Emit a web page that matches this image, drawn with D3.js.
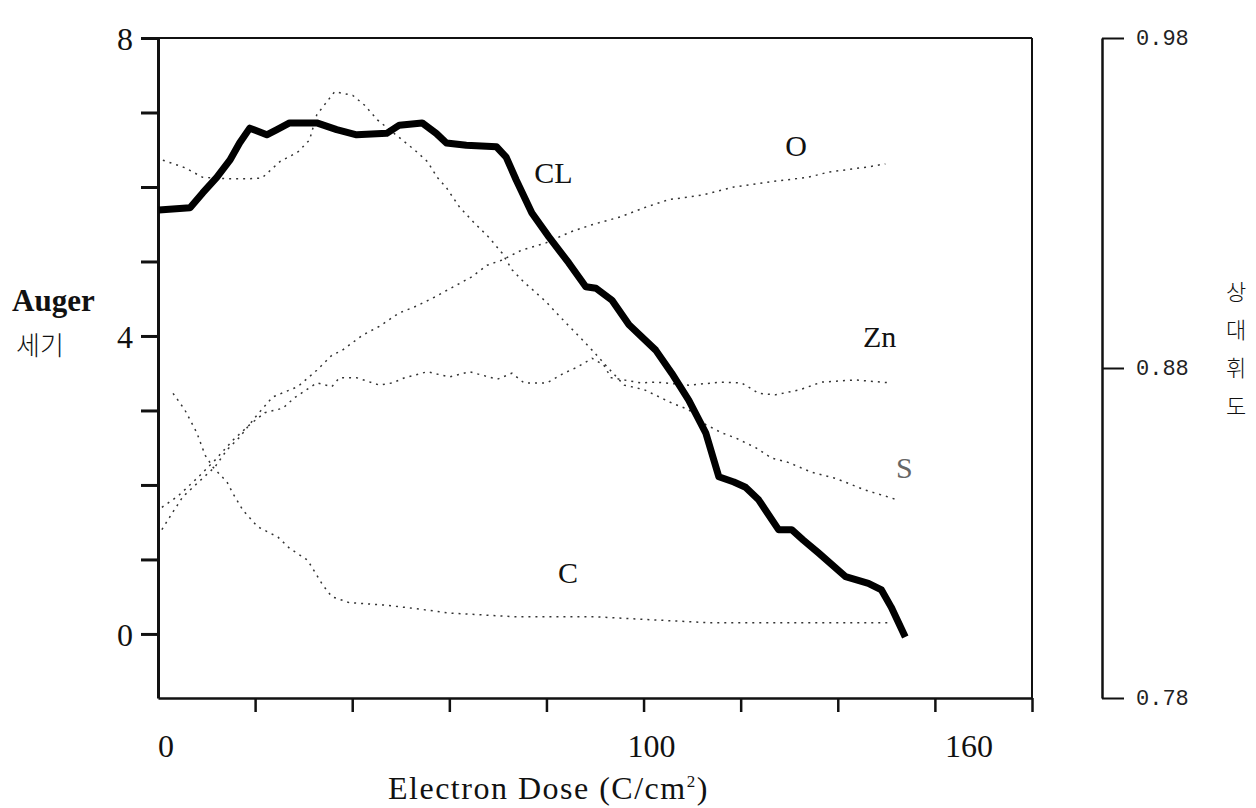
<!DOCTYPE html>
<html>
<head>
<meta charset="utf-8">
<script src="https://cdn.jsdelivr.net/npm/d3@7"></script>
<style>
  body { margin: 0; background: #fff; }
  svg { display: block; }
  .num { font-family: "Liberation Serif", "DejaVu Serif", serif; font-size: 32px; fill: #111; }
  .lbl { font-family: "Liberation Serif", "DejaVu Serif", serif; font-size: 30px; fill: #111; }
  .kr { font-family: "Noto Sans CJK KR", sans-serif; fill: #111; }
  .mono { font-family: "Liberation Mono", "DejaVu Sans Mono", monospace; font-size: 22px; fill: #222; }
</style>
</head>
<body>
<div id="chart"></div>
<script>
// values: [dose, auger intensity]
var clData = [[0.2,5.69],[6.6,5.72],[9.2,5.92],[12.1,6.13],[14.8,6.36],[16.8,6.59],[18.9,6.79],[22.4,6.70],[24.5,6.77],[27.1,6.86],[32.7,6.86],[36.8,6.77],[40.9,6.70],[47.1,6.72],[49.7,6.83],[54.4,6.86],[57.3,6.72],[59.4,6.59],[63.5,6.56],[69.7,6.54],[71.7,6.40],[73.8,6.09],[77.0,5.65],[80.5,5.33],[84.6,4.98],[88.1,4.66],[90.2,4.64],[93.5,4.48],[97.0,4.15],[102.5,3.81],[105.8,3.50],[109.3,3.14],[112.8,2.70],[115.5,2.11],[118.6,2.04],[121.0,1.97],[123.7,1.80],[127.8,1.40],[130.5,1.40],[132.9,1.26],[136.0,1.09],[141.6,0.77],[146.3,0.68],[149.0,0.59],[151.0,0.36],[153.9,-0.04]];
var sData = [[1.0,6.36],[5.5,6.26],[9.2,6.13],[14.4,6.11],[18.5,6.11],[21.4,6.12],[25.1,6.34],[28.8,6.47],[31.2,6.63],[32.7,6.97],[36.4,7.28],[40.1,7.23],[42.5,7.10],[45.2,6.90],[52.8,6.50],[55.5,6.34],[57.5,6.13],[59.4,5.99],[62.1,5.73],[65.1,5.52],[68.2,5.32],[70.9,5.11],[72.9,4.89],[75.4,4.72],[77.0,4.63],[79.9,4.46],[83.2,4.23],[87.1,3.97],[89.4,3.81],[92.3,3.60],[96.0,3.34],[100.1,3.28],[105.8,3.10],[109.3,3.01],[112.8,2.81],[116.1,2.70],[119.0,2.63],[123.1,2.50],[126.4,2.36],[129.9,2.30],[134.6,2.17],[139.5,2.09],[145.7,1.93],[151.8,1.81]];
var oData = [[0.8,1.40],[2.9,1.62],[5.1,1.84],[8.2,2.03],[11.7,2.24],[14.2,2.47],[16.8,2.64],[19.9,2.90],[23.6,3.18],[28.8,3.32],[32.7,3.54],[35.8,3.74],[38.0,3.81],[42.1,4.01],[45.6,4.13],[49.7,4.31],[53.2,4.40],[56.9,4.52],[61.4,4.68],[64.5,4.79],[67.8,4.95],[70.9,5.02],[74.8,5.15],[79.9,5.25],[85.1,5.40],[89.2,5.49],[95.3,5.60],[100.5,5.73],[105.2,5.83],[112.0,5.89],[118.6,6.00],[126.2,6.07],[133.9,6.13],[138.1,6.20],[146.3,6.27],[149.8,6.31]];
var znData = [[0.8,1.70],[4.1,1.85],[8.2,2.10],[11.7,2.33],[15.4,2.60],[18.9,2.81],[22.0,2.97],[25.7,3.03],[28.1,3.17],[32.7,3.37],[35.8,3.32],[37.4,3.44],[40.9,3.44],[45.6,3.34],[48.3,3.37],[50.8,3.44],[55.5,3.52],[60.0,3.45],[64.1,3.52],[69.9,3.42],[72.9,3.50],[75.4,3.37],[80.1,3.37],[83.6,3.50],[86.3,3.58],[89.4,3.70],[91.8,3.61],[93.3,3.44],[99.4,3.37],[102.7,3.38],[109.3,3.34],[116.1,3.38],[120.2,3.37],[123.7,3.23],[127.2,3.21],[132.3,3.28],[136.6,3.38],[143.6,3.41],[150.8,3.37]];
var cData = [[3.1,3.23],[5.5,3.01],[8.0,2.70],[9.7,2.40],[11.3,2.24],[14.2,2.04],[15.4,1.89],[17.5,1.66],[20.5,1.44],[24.7,1.30],[27.1,1.15],[30.8,0.99],[33.9,0.66],[35.8,0.50],[39.4,0.42],[46.2,0.39],[53.2,0.34],[60.0,0.28],[73.8,0.23],[90.2,0.23],[113.4,0.15],[151.0,0.15]];

var xTicks = [20,40,60,80,100,120,140,160,180];
var xLabels = [0,100,160];
var yTicks = [0,1,2,3,4,5,6,7,8];
var yLabels = [0,4,8];
var rTicks = [0.78,0.88,0.98];
var rTitle = ["상","대","휘","도"];
// series labels: [text, dose, value]
var seriesLabels = [["CL",77.5,6.05],["O",129.2,6.42],["Zn",145.2,3.85],["S",152,2.09],["C",82.4,0.68]];

var W = 1256, H = 808;
var L = 158, R = 1032, T = 38, B = 698;

var svg = d3.select("#chart").append("svg").attr("width", W).attr("height", H);

var x = d3.scaleLinear().domain([0,180]).range([L, R]);
var y = d3.scaleLinear().domain([-0.86,8]).range([B, T]);
var yr = d3.scaleLinear().domain([0.78,0.98]).range([B, T]);

// frame top + right
svg.append("line").attr("x1", L).attr("x2", R).attr("y1", T).attr("y2", T)
  .attr("stroke", "#111").attr("stroke-width", 2);
svg.append("line").attr("x1", R).attr("x2", R).attr("y1", T).attr("y2", B)
  .attr("stroke", "#111").attr("stroke-width", 2);

// bottom axis
var gx = svg.append("g").attr("transform", "translate(0," + B + ")")
  .call(d3.axisBottom(x).tickValues(xTicks).tickSize(14).tickSizeOuter(0).tickFormat(""));
gx.select(".domain").attr("stroke", "#111").attr("stroke-width", 2.5);
gx.selectAll(".tick line").attr("stroke", "#111").attr("stroke-width", 2.5);

// x labels (the printed ones sit a bit right of their ticks)
var xShift = function(v) { return v === 160 ? 34 : 8; };
svg.selectAll("text.xl").data(xLabels).enter().append("text")
  .attr("class", "num").attr("text-anchor", "middle")
  .attr("x", function(d) { return x(d) + xShift(d); }).attr("y", 757)
  .text(function(d) { return d; });

// left axis
var gy = svg.append("g").attr("transform", "translate(" + L + ",0)")
  .call(d3.axisLeft(y).tickValues(yTicks).tickSize(17).tickSizeOuter(0).tickFormat(""));
gy.select(".domain").attr("stroke", "#111").attr("stroke-width", 3);
gy.selectAll(".tick line").attr("stroke", "#111").attr("stroke-width", 3);

svg.selectAll("text.yl").data(yLabels).enter().append("text")
  .attr("class", "num").attr("text-anchor", "end")
  .attr("x", 133).attr("y", function(d) { return y(d) + 12; })
  .text(function(d) { return d; });

svg.append("text").attr("class", "lbl").attr("x", 12).attr("y", 311)
  .style("font-weight", "bold").style("font-size", "31px").text("Auger");
svg.append("text").attr("class", "kr").attr("x", 16).attr("y", 355)
  .style("font-size", "26px").style("font-weight", 300).text("세기");

svg.append("text").attr("class", "num").attr("x", 388).attr("y", 799)
  .style("letter-spacing", "1.5px")
  .text("Electron Dose (C/cm")
  .append("tspan").attr("dy", -12).style("font-size", "17px").text("2")
  .select(function() { return this.parentNode; })
  .append("tspan").attr("dy", 12).text(")");

// right axis
var RX = 1102;
var gr = svg.append("g").attr("transform", "translate(" + RX + ",0)")
  .call(d3.axisRight(yr).tickValues(rTicks).tickSize(22).tickSizeOuter(0).tickFormat(""));
gr.select(".domain").attr("stroke", "#111").attr("stroke-width", 2.5);
gr.selectAll(".tick line").attr("stroke", "#111").attr("stroke-width", 2);

svg.selectAll("text.rl").data(rTicks).enter().append("text")
  .attr("class", "mono").attr("x", 1136).attr("y", function(d) { return yr(d) + 7; })
  .text(function(d) { return d3.format(".2f")(d); });

svg.selectAll("text.rt").data(rTitle).enter().append("text")
  .attr("class", "kr").attr("text-anchor", "middle")
  .style("font-size", "22px").style("font-weight", 300)
  .attr("x", 1236).attr("y", function(d, i) { return 300 + i * 38; })
  .text(function(d) { return d; });

// series
var line = d3.line().x(function(d) { return x(d[0]); }).y(function(d) { return y(d[1]); });

[cData, oData, znData, sData].forEach(function(s) {
  svg.append("path").datum(s).attr("d", line)
    .attr("fill", "none").attr("stroke", "#333").attr("stroke-width", 1.5)
    .attr("stroke-dasharray", "2,5");
});

svg.append("path").datum(clData).attr("d", line)
  .attr("fill", "none").attr("stroke", "#000").attr("stroke-width", 7)
  .attr("stroke-linejoin", "round");

svg.selectAll("text.sl").data(seriesLabels).enter().append("text")
  .attr("class", "lbl")
  .attr("x", function(d) { return x(d[1]); }).attr("y", function(d) { return y(d[2]); })
  .style("fill", function(d) { return d[0] === "S" ? "#666" : "#111"; })
  .text(function(d) { return d[0]; });
</script>
</body>
</html>
